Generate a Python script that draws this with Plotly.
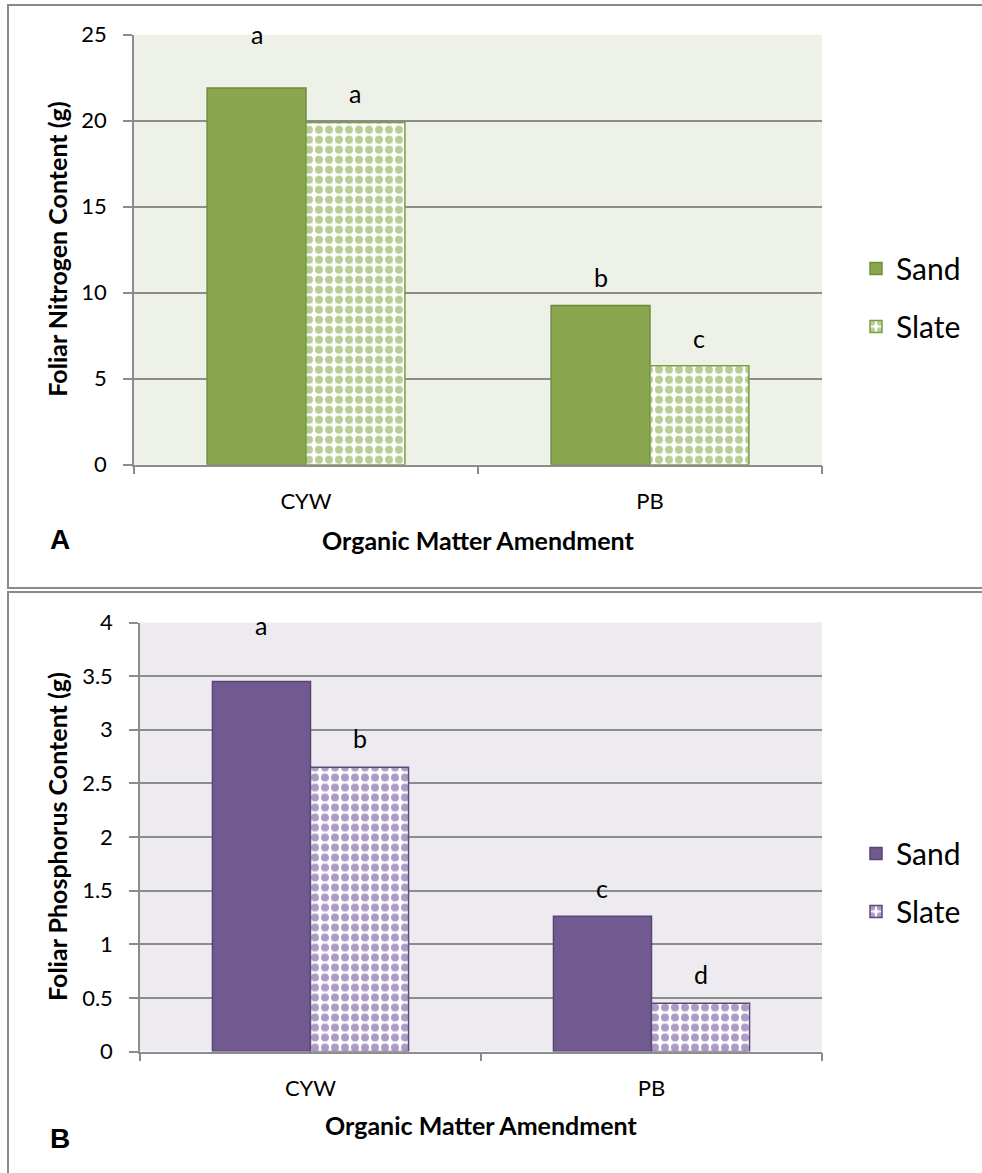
import plotly.graph_objects as go

# ---------------- data ----------------
categories = ["CYW", "PB"]
series_names = ["Sand", "Slate"]

nitrogen_sand = [21.9, 9.25]
nitrogen_slate = [19.9, 5.75]
nitrogen_letters_sand = ["a", "b"]
nitrogen_letters_slate = ["a", "c"]

phosphorus_sand = [3.45, 1.26]
phosphorus_slate = [2.65, 0.45]
phosphorus_letters_sand = ["a", "c"]
phosphorus_letters_slate = ["b", "d"]

nitrogen_ticks = [0, 5, 10, 15, 20, 25]
phosphorus_ticks = [0, 0.5, 1, 1.5, 2, 2.5, 3, 3.5, 4]

# ---------------- layout helpers ----------------
W, H = 982, 1173
def px(x):
    return x / W
def py(y):
    return 1 - y / H

FONT = "Lato"
BARGAP = 0.425
GRID = "#8C8C8C"

fig = go.Figure()

# Panel A traces
fig.add_trace(go.Bar(
    x=categories, y=nitrogen_sand, name=series_names[0], xaxis="x", yaxis="y",
    marker=dict(color="#8AA64F", line=dict(color="#6F8C3E", width=1.5)),
    legend="legend", legendgroup="a1"))
fig.add_trace(go.Bar(
    x=categories, y=nitrogen_slate, name=series_names[1], xaxis="x", yaxis="y",
    marker=dict(color="#B8CE95", line=dict(color="#7C9B44", width=1.5),
                pattern=dict(shape=".", fgcolor="#B8CE95", bgcolor="#FFFFFF",
                             size=10, solidity=0.5, fillmode="replace")),
    legend="legend", legendgroup="a2"))

# Panel B traces
fig.add_trace(go.Bar(
    x=categories, y=phosphorus_sand, name=series_names[0], xaxis="x2", yaxis="y2",
    marker=dict(color="#705A8F", line=dict(color="#5A4476", width=1.5)),
    legend="legend2", legendgroup="b1"))
fig.add_trace(go.Bar(
    x=categories, y=phosphorus_slate, name=series_names[1], xaxis="x2", yaxis="y2",
    marker=dict(color="#AC9CC5", line=dict(color="#5E4779", width=1.5),
                pattern=dict(shape=".", fgcolor="#AC9CC5", bgcolor="#FFFFFF",
                             size=10, solidity=0.5, fillmode="replace")),
    legend="legend2", legendgroup="b2"))

tickfont = dict(family=FONT, size=22, color="#000000")

def xaxis_cfg(x0, x1):
    return dict(domain=[px(x0), px(x1)], type="category",
                showline=True, linecolor=GRID, linewidth=1.5,
                ticks="outside", tickson="boundaries", ticklen=8,
                tickcolor=GRID, tickwidth=1.5, tickfont=tickfont,
                ticklabelstandoff=16, showgrid=False, fixedrange=True)

def yaxis_cfg(y0, y1, rng, ticks):
    return dict(domain=[py(y1), py(y0)], range=rng, tickvals=ticks,
                showline=True, linecolor=GRID, linewidth=1.5,
                ticks="outside", ticklen=9, tickcolor=GRID, tickwidth=1.5,
                tickfont=tickfont, ticklabelstandoff=12,
                showgrid=True, gridcolor=GRID, gridwidth=1.5,
                zeroline=False, fixedrange=True)

xa = xaxis_cfg(134, 822); xa["anchor"] = "y"
xb = xaxis_cfg(140, 822); xb["anchor"] = "y2"
ya = yaxis_cfg(34.7, 464.7, [0, 25], nitrogen_ticks); ya["anchor"] = "x"
yb = yaxis_cfg(622.5, 1051.5, [0, 4], phosphorus_ticks); yb["anchor"] = "x2"

shapes = [
    # panel frames
    dict(type="rect", xref="paper", yref="paper", x0=px(8), x1=px(990),
         y0=py(588), y1=py(5), line=dict(color="#8A8A8A", width=2), layer="below"),
    dict(type="rect", xref="paper", yref="paper", x0=px(8), x1=px(990),
         y0=py(1190), y1=py(592), line=dict(color="#8A8A8A", width=2), layer="below"),
    # plot-area backgrounds
    dict(type="rect", xref="x domain", yref="y domain", x0=0, x1=1, y0=0, y1=1,
         fillcolor="#EEF1E8", line=dict(width=0), layer="below"),
    dict(type="rect", xref="x2 domain", yref="y2 domain", x0=0, x1=1, y0=0, y1=1,
         fillcolor="#EDEBF0", line=dict(width=0), layer="below"),
]

annotations = []
bar_half = (1 - BARGAP) / 4  # centre offset of each bar within its group
letter_font = dict(family=FONT, size=25, color="#000000")
LIFT_A = [[54, 29], [29, 28]]   # px above bar top: [sand list, slate list]
LIFT_B = [[56, 28], [29, 29]]

def add_letters(xref, yref, sand, slate, lsand, lslate, lift):
    for i in range(len(categories)):
        for j, (vals, labs) in enumerate(((sand, lsand), (slate, lslate))):
            annotations.append(dict(
                xref=xref, yref=yref, x=i + (2 * j - 1) * bar_half, y=vals[i],
                text=labs[i], showarrow=False, yanchor="middle",
                yshift=lift[j][i], font=letter_font))

add_letters("x", "y", nitrogen_sand, nitrogen_slate,
            nitrogen_letters_sand, nitrogen_letters_slate, LIFT_A)
add_letters("x2", "y2", phosphorus_sand, phosphorus_slate,
            phosphorus_letters_sand, phosphorus_letters_slate, LIFT_B)

title_font = dict(family=FONT, size=25, color="#000000")
panel_font = dict(family="Liberation Sans", size=28, color="#000000")
annotations += [
    dict(xref="x domain", yref="paper", x=0.5, y=py(540), text="<b>Organic Matter Amendment</b>",
         showarrow=False, font=title_font, yanchor="middle"),
    dict(xref="x2 domain", yref="paper", x=0.5, y=py(1125), text="<b>Organic Matter Amendment</b>",
         showarrow=False, font=title_font, yanchor="middle"),
    dict(xref="paper", yref="y domain", x=px(57), y=0.5, text="<b>Foliar Nitrogen Content (g)</b>",
         showarrow=False, font=title_font, textangle=-90, xanchor="center", yanchor="middle"),
    dict(xref="paper", yref="y2 domain", x=px(57), y=0.5, text="<b>Foliar Phosphorus Content (g)</b>",
         showarrow=False, font=title_font, textangle=-90, xanchor="center", yanchor="middle"),
    dict(xref="paper", yref="paper", x=px(48), y=py(540), text="<b>A</b>", showarrow=False,
         font=panel_font, yanchor="middle"),
    dict(xref="paper", yref="paper", x=px(48), y=py(1138), text="<b>B</b>", showarrow=False,
         font=panel_font, yanchor="middle"),
]

legend_font = dict(family=FONT, size=30, color="#000000")
fig.update_layout(
    width=W, height=H, autosize=False,
    margin=dict(l=0, r=0, t=0, b=0, autoexpand=False),
    paper_bgcolor="#FFFFFF", plot_bgcolor="rgba(0,0,0,0)",
    barmode="group", bargap=BARGAP, bargroupgap=0,
    xaxis=xa, yaxis=ya, xaxis2=xb, yaxis2=yb,
    shapes=shapes, annotations=annotations,
    legend=dict(x=px(856), y=py(297.5), xanchor="left", yanchor="middle",
                font=legend_font, bgcolor="rgba(0,0,0,0)", traceorder="grouped",
                tracegroupgap=16),
    legend2=dict(x=px(856), y=py(882.5), xanchor="left", yanchor="middle",
                 font=legend_font, bgcolor="rgba(0,0,0,0)", traceorder="grouped",
                 tracegroupgap=16),
    showlegend=True,
)

fig.write_html("out.html")
